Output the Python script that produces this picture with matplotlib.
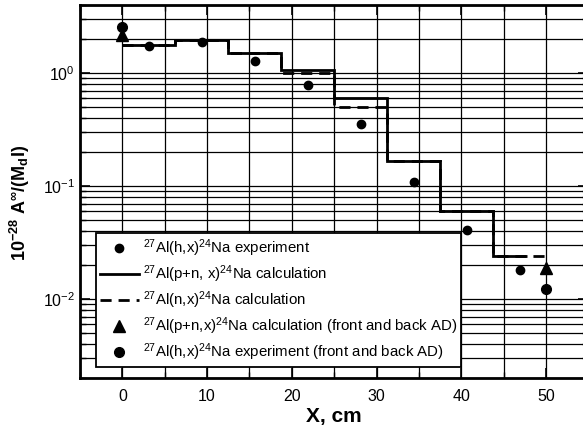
import matplotlib
matplotlib.use("Agg")
import matplotlib.pyplot as plt
from matplotlib.ticker import MultipleLocator, LogLocator, NullFormatter
from matplotlib.lines import Line2D

plt.rcParams['font.family'] = ['Liberation Sans', 'DejaVu Sans']
plt.rcParams['mathtext.fontset'] = 'custom'
plt.rcParams['mathtext.rm'] = 'Liberation Sans'
plt.rcParams['mathtext.it'] = 'Liberation Sans:italic'
plt.rcParams['mathtext.bf'] = 'Liberation Sans:bold'

# ---- data ----
edges_pn = [0, 6.25, 12.5, 18.75, 25, 31.25, 37.5, 43.75, 47.75]
calc_pn = [1.76, 1.97, 1.51, 1.06, 0.60, 0.166, 0.0603, 0.0238]
edges_n = [0, 6.25, 12.5, 18.75, 25, 31.25, 37.5, 43.75, 50]
calc_n = [1.76, 1.97, 1.51, 1.00, 0.50, 0.166, 0.0603, 0.0238]

exp_x = [3.125, 9.375, 15.625, 21.875, 28.125, 34.375, 40.625, 46.875]
exp_y = [1.74, 1.88, 1.27, 0.785, 0.356, 0.108, 0.0412, 0.0181]

fb_x = [0, 50]
fb_calc = [2.18, 0.0189]
fb_exp = [2.58, 0.0122]

labels = [
    r"$^{27}$Al(h,x)$^{24}$Na experiment",
    r"$^{27}$Al(p+n, x)$^{24}$Na calculation",
    r"$^{27}$Al(n,x)$^{24}$Na calculation",
    r"$^{27}$Al(p+n,x)$^{24}$Na calculation (front and back AD)",
    r"$^{27}$Al(h,x)$^{24}$Na experiment (front and back AD)",
]

fig = plt.figure(figsize=(5.83, 4.33), dpi=100)
ax = fig.add_axes([80/583, 1-378/433, 508.4/583, 373/433])

ax.set_yscale('log')
ax.set_xlim(-5, 55)
ax.set_ylim(0.002, 4)

ax.stairs(calc_n, edges_n, baseline=None, color='black', lw=2.0,
          linestyle=(0, (4, 2.5)), zorder=3)
ax.stairs(calc_pn, edges_pn, baseline=None, color='black', lw=2.0, zorder=4)
ax.plot(exp_x, exp_y, 'o', color='black', ms=6, zorder=5)
ax.plot(fb_x, fb_calc, '^', color='black', ms=9, zorder=5)
ax.plot(fb_x, fb_exp, 'o', color='black', ms=7, zorder=6)

ax.xaxis.set_major_locator(MultipleLocator(10))
ax.xaxis.set_minor_locator(MultipleLocator(5))
ax.yaxis.set_major_locator(LogLocator(base=10))
ax.yaxis.set_minor_locator(LogLocator(base=10, subs=range(2, 10)))
ax.yaxis.set_minor_formatter(NullFormatter())

ax.grid(True, which='both', color='black', lw=0.9)
ax.set_axisbelow(True)
ax.tick_params(which='both', direction='in', top=True, right=True, labelsize=11.5)
ax.tick_params(which='major', length=7, width=1.2)
ax.tick_params(which='minor', length=4, width=1.0)
ax.tick_params(axis='x', pad=8)
for s in ax.spines.values():
    s.set_linewidth(2.0)

ax.set_xlabel("X, cm", fontsize=15, fontweight='bold', labelpad=2)
ax.set_ylabel(r"10$^{\mathbf{-28}}$ A$^{\mathbf{∞}}$/(M$_{\mathbf{d}}$I)",
              fontsize=13, fontweight='bold')
ax.yaxis.set_label_coords(-0.094, 0.468)

handles = [
    Line2D([], [], marker='o', color='black', ls='none', ms=6),
    Line2D([], [], color='black', lw=2.0),
    Line2D([], [], color='black', lw=2.0, linestyle=(0, (4, 2.5))),
    Line2D([], [], marker='^', color='black', ls='none', ms=9),
    Line2D([], [], marker='o', color='black', ls='none', ms=7),
]
leg = ax.legend(handles, labels, loc='lower left', bbox_to_anchor=(0.0315, 0.0295),
                borderaxespad=0, fontsize=10.8, frameon=True, fancybox=False,
                edgecolor='black', framealpha=1, handlelength=2.6,
                labelspacing=0.3, handletextpad=0.3, borderpad=0.25)
leg.get_frame().set_linewidth(1.3)
leg.set_zorder(10)

fig.savefig("out.png", dpi=100)
